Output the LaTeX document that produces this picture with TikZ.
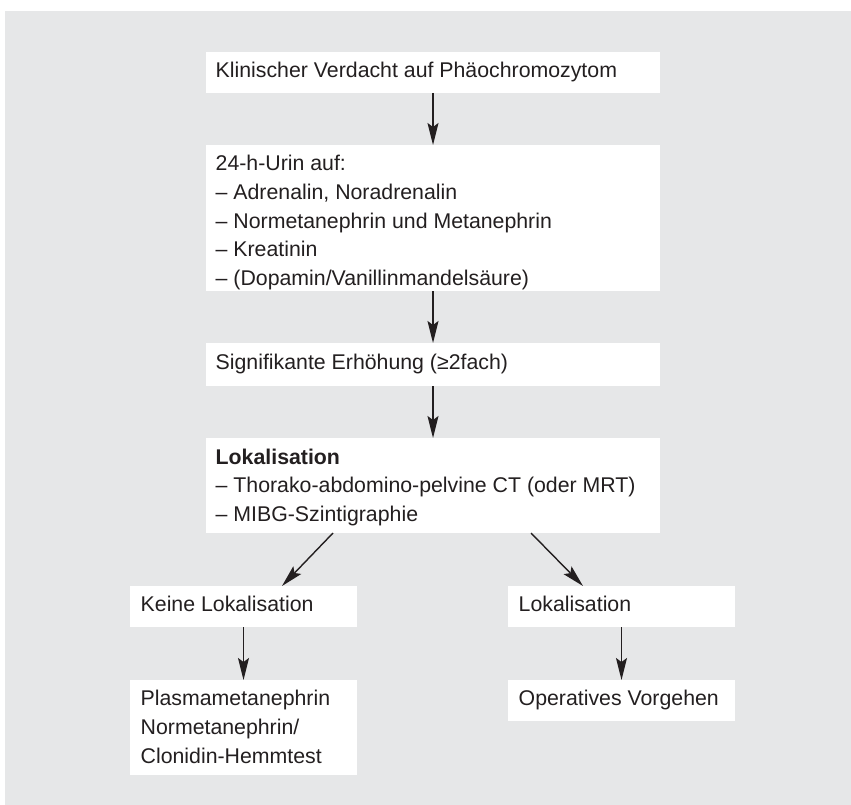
\documentclass[tikz,border=0pt]{standalone}
\usepackage{fontspec}
\setmainfont{Liberation Sans}
\usetikzlibrary{arrows.meta}
\definecolor{bg}{HTML}{E6E7E8}
\definecolor{ink}{HTML}{231F20}
\newcommand{\fs}{\rule{0pt}{16pt}}
\begin{document}
\begin{tikzpicture}[x=1pt,y=-1pt,
  box/.style={fill=white,draw=none,inner sep=0pt,outer sep=0pt,anchor=north west},
  txt/.style={inner sep=0pt,anchor=north west,align=left,text=ink,
    font=\fontsize{21.3pt}{28.7pt}\selectfont},
  arr/.style={draw=ink,line width=1.4pt,-{Stealth[length=22pt,width=11pt,inset=4pt]}}]
\useasboundingbox (0,0) rectangle (851,805);
\fill[bg] (5,11) rectangle (851,805);
% boxes
\node[box,minimum width=454pt,minimum height=41pt] (b1) at (206,52) {};
\node[box,minimum width=454pt,minimum height=146pt] (b2) at (206,145) {};
\node[box,minimum width=454pt,minimum height=43pt] (b3) at (206,343) {};
\node[box,minimum width=454pt,minimum height=95pt] (b4) at (206,438) {};
\node[box,minimum width=227pt,minimum height=41pt] (kl) at (130,586) {};
\node[box,minimum width=227pt,minimum height=95pt] (pl) at (130,680) {};
\node[box,minimum width=227pt,minimum height=41pt] (lk) at (508,586) {};
\node[box,minimum width=227pt,minimum height=41pt] (op) at (508,680) {};
% texts
\node[txt] (t1) at ([xshift=9.5pt,yshift=-9.5pt]b1.north west) {\fs Klinischer Verdacht auf Phäochromozytom};
\node[txt] (t2) at ([xshift=9.5pt,yshift=-9.5pt]b2.north west) {\fs 24-h-Urin auf:\\
– Adrenalin, Noradrenalin\\
– Normetanephrin und Metanephrin\\
– Kreatinin\\
– (Dopamin/Vanillinmandelsäure)};
\node[txt] (t3) at ([xshift=9.5pt,yshift=-10pt]b3.north west) {\fs Signifikante Erhöhung (≥2fach)};
\node[txt] (t4) at ([xshift=9.5pt,yshift=-10pt]b4.north west) {\fs\textbf{Lokalisation}\\
– Thorako-abdomino-pelvine CT (oder MRT)\\
– MIBG-Szintigraphie};
\node[txt] (t5) at ([xshift=10.5pt,yshift=-9.5pt]kl.north west) {\fs Keine Lokalisation};
\node[txt] (t6) at ([xshift=10.5pt,yshift=-9.5pt]pl.north west) {\fs Plasmametanephrin\\
Normetanephrin/\\
Clonidin-Hemmtest};
\node[txt] (t7) at ([xshift=10.5pt,yshift=-9.5pt]lk.north west) {\fs Lokalisation};
\node[txt] (t8) at ([xshift=10.5pt,yshift=-9.5pt]op.north west) {\fs Operatives Vorgehen};
% arrows
\draw[arr] (b1.south) -- (b2.north);
\draw[arr] (b2.south) -- (b3.north);
\draw[arr] (b3.south) -- (b4.north);
\draw[arr] ([xshift=-100pt]b4.south) -- ([xshift=38.5pt]kl.north);
\draw[arr] ([xshift=98pt]b4.south) -- ([xshift=-38.5pt]lk.north);
\draw[arr] (kl.south) -- (pl.north);
\draw[arr] (lk.south) -- (op.north);
\end{tikzpicture}
\end{document}
